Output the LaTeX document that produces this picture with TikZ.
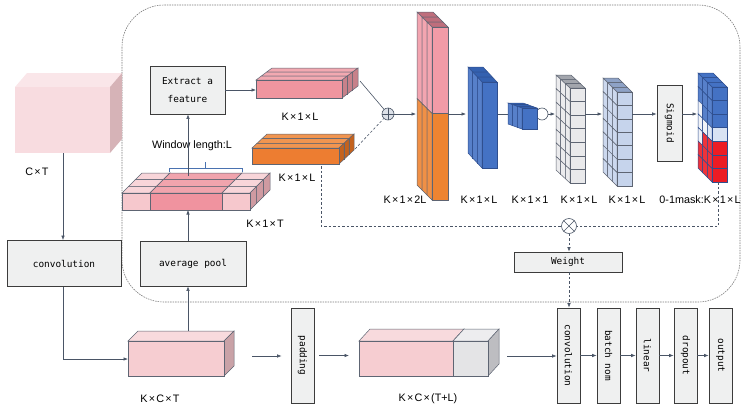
\documentclass[tikz,border=0pt]{standalone}
\usepackage{fontspec}
\setmainfont{Liberation Sans}
\newfontfamily\monof{DejaVu Sans Mono}
\usetikzlibrary{arrows.meta,calc}
\definecolor{lc}{HTML}{4A5566}
\definecolor{boxF}{HTML}{EFF0F0}
\definecolor{boxD}{HTML}{3C3C3C}
\definecolor{dsh}{HTML}{7A7A7A}
\definecolor{edG}{HTML}{5E6573}
\definecolor{bigF}{HTML}{F8DCE0}\definecolor{bigT}{HTML}{FAE6E9}\definecolor{bigS}{HTML}{D6B3B7}
\definecolor{kcF}{HTML}{F6CDD1}\definecolor{kcT}{HTML}{F8DADD}\definecolor{kcS}{HTML}{C9A2A7}
\definecolor{gyF}{HTML}{E4E4E6}\definecolor{gyT}{HTML}{EDEDEF}\definecolor{gyS}{HTML}{BDBDC1}
\definecolor{lpF}{HTML}{F6C8CD}\definecolor{lpT}{HTML}{F8D5D9}
\definecolor{dpF}{HTML}{F0939F}\definecolor{dpT}{HTML}{F1A4AD}\definecolor{pS}{HTML}{CF9AA1}
\definecolor{pkF}{HTML}{F0959F}\definecolor{pkT}{HTML}{F2A9B1}\definecolor{pkS}{HTML}{C7818A}
\definecolor{orF}{HTML}{ED7D31}\definecolor{orT}{HTML}{F19550}\definecolor{orS}{HTML}{C4621D}
\definecolor{tpk}{HTML}{F29BA7}\definecolor{tor}{HTML}{EE8431}\definecolor{tT}{HTML}{BF6E7C}
\definecolor{blF}{HTML}{4472C4}\definecolor{blT}{HTML}{3461B0}\definecolor{edB}{HTML}{2F4F8F}
\definecolor{grF}{HTML}{E9E9EB}\definecolor{grT}{HTML}{A3A6AD}
\definecolor{lbF}{HTML}{C6D4EC}\definecolor{lbT}{HTML}{8EA2C6}
\definecolor{mB}{HTML}{4472C4}\definecolor{mL}{HTML}{D9E3F3}\definecolor{mR}{HTML}{EC1C24}\definecolor{mW}{HTML}{EEF0F6}
\definecolor{brk}{HTML}{4A72B0}
\definecolor{opF}{HTML}{DDE1E8}
\newcommand\tm{\kern1.2pt×\kern1.2pt}
% cuboid with depth to the right
\newcommand\cubR[6]{%
  \filldraw[fill=\cT,draw=\cE,line width=0.5pt] ({#1},{#2}) -- ({#3},{#2}) -- ++({#5},{#6}) -- ++({(#1)-(#3)},0) -- cycle;
  \filldraw[fill=\cS,draw=\cE,line width=0.5pt] ({#3},{#2}) -- ++({#5},{#6}) -- ++(0,{(#4)-(#2)}) -- ({#3},{#4}) -- cycle;
  \filldraw[fill=\cF,draw=\cE,line width=0.5pt] ({#1},{#2}) rectangle ({#3},{#4});}
\newcommand\slabR[7]{%
  \foreach \k in {#7,...,1}{%
    \pgfmathsetmacro\ox{(\k-1)*(#5)/(#7)}%
    \pgfmathsetmacro\oy{(\k-1)*(#6)/(#7)}%
    \pgfmathsetmacro\ddx{(#5)/(#7)}\pgfmathsetmacro\ddy{(#6)/(#7)}%
    \cubR{#1+\ox}{#2+\oy}{#3+\ox}{#4+\oy}{\ddx}{\ddy}}}
% slice k (of 3) of a block with depth to the left, rows coloured by list
\newcommand\gslice[9]{%
  \pgfmathsetmacro\gox{(#1-1)*(#6)/3}%
  \pgfmathsetmacro\goy{(#1-1)*(#7)/3}%
  \pgfmathsetmacro\gdx{(#6)/3}\pgfmathsetmacro\gdy{(#7)/3}%
  \pgfmathsetmacro\gRH{((#5)-(#3))/(#8)}%
  \filldraw[fill=\cT,draw=\cE,line width=0.5pt] ({#2+\gox},{#3+\goy}) -- ({#4+\gox},{#3+\goy}) -- ++(\gdx,\gdy) -- ++({(#2)-(#4)},0) -- cycle;
  \foreach \cc [count=\rr from 0] in {#9}{%
    \filldraw[fill=\cc!90!white,draw=\cE,line width=0.5pt] ({#2+\gox},{#3+\goy+\rr*\gRH}) -- ++(\gdx,\gdy) -- ++(0,\gRH) -- ({#2+\gox},{#3+\goy+(\rr+1)*\gRH}) -- cycle;
    \filldraw[fill=\cc,draw=\cE,line width=0.5pt] ({#2+\gox},{#3+\goy+\rr*\gRH}) rectangle ({#4+\gox},{#3+\goy+(\rr+1)*\gRH});}}
\tikzset{
  arr/.style={draw=lc, line width=0.6pt, -{Latex[length=4.5pt,width=3.5pt]}},
  ln/.style={draw=lc, line width=0.6pt},
  dl/.style={draw=lc, line width=0.6pt, dash pattern=on 2.5pt off 2pt},
  box/.style={draw=boxD, fill=boxF, line width=0.7pt, font=\monof\fontsize{9.4}{18}\selectfont, align=center, inner sep=0pt},
  vbox/.style={box, rotate=-90, minimum width=95pt, minimum height=23pt},
  lab/.style={font=\fontsize{10.8}{12}\selectfont, inner sep=0pt},
}
\begin{document}
\begin{tikzpicture}[x=1pt,y=-1pt]
\useasboundingbox (0,0) rectangle (745,410);
% dashed frame
\draw[dsh, line width=0.6pt, dash pattern=on 1.5pt off 1pt, rounded corners=42pt] (122,5) rectangle (740,302);
% big input cube
\def\cF{bigF}\def\cT{bigT}\def\cS{bigS}\def\cE{none}
\cubR{15}{87}{110}{153}{12}{-14}
\coordinate (bigB) at (63,153);
\node[lab] (lct) at (37,172) {C\tm T};
% boxes
\node[box, minimum width=114pt, minimum height=46pt] (conv1) at (64,263.5) {convolution};
\node[box, minimum width=106pt, minimum height=45pt] (avg) at (193,263.5) {average pool};
\node[box, minimum width=75pt, minimum height=48pt] (ext) at (187.5,90) {Extract a\\feature};
\node[vbox, minimum width=76pt, minimum height=25pt] (sig) at (669.5,123) {Sigmoid};
\node[box, minimum width=108pt, minimum height=20pt] (wt) at (568,262) {Weight};
\node[vbox] (pad) at (302.5,355.5) {padding};
\node[vbox] (conv2) at (568.5,355.5) {convolution};
\node[vbox] (bn) at (608.5,355.5) {batch nom};
\node[vbox] (lin) at (647.5,355.5) {linear};
\node[vbox] (drop) at (685.5,355.5) {dropout};
\node[vbox] (out) at (720.5,355.5) {output};
% K x C x T
\def\cF{kcF}\def\cT{kcT}\def\cS{kcS}\def\cE{edG}
\cubR{128}{341}{224}{376}{10}{-10}
\node[lab] (lkct) at (160,399) {K\tm C\tm T};
% K x C x (T+L)
\cubR{359}{341}{453}{376}{11}{-12}
\def\cF{gyF}\def\cT{gyT}\def\cS{gyS}
\cubR{453}{341}{488}{376}{11}{-12}
\node[lab] (lkctl) at (428,399) {K\tm C\tm (T+L)};
% K x 1 x T
\def\cE{edG}\def\cS{pS}
\foreach \k in {3,2,1}{%
  \pgfmathsetmacro\ox{(\k-1)*20/3}\pgfmathsetmacro\oy{-(\k-1)*20/3}%
  \def\cF{lpF}\def\cT{lpT}\cubR{122+\ox}{193+\oy}{150+\ox}{210+\oy}{6.667}{-6.667}
  \def\cF{dpF}\def\cT{dpT}\cubR{150+\ox}{193+\oy}{222+\ox}{210+\oy}{6.667}{-6.667}
  \def\cF{lpF}\def\cT{lpT}\cubR{222+\ox}{193+\oy}{250+\ox}{210+\oy}{6.667}{-6.667}
}
\node[lab] (lk1t) at (265,224) {K\tm1\tm T};
\draw[brk, line width=0.7pt] (169,172) -- (169,168) -- (242,168) -- (242,172) (205,168) -- (205,162);
\node[lab] (lwin) at (192,146) {Window length:L};
% pink and orange slabs
\def\cF{pkF}\def\cT{pkT}\def\cS{pkS}
\slabR{256}{80}{342}{98}{16}{-12}{3}
\node[lab] (lpk) at (300,117) {K\tm1\tm L};
\def\cF{orF}\def\cT{orT}\def\cS{orS}
\slabR{252}{148}{339}{164}{15}{-14}{3}
\node[lab] (lor) at (297,178) {K\tm1\tm L};
% tall block
\def\cT{tT}\def\cE{edG}
\foreach \k in {3,2,1}{\gslice{\k}{432}{27}{448}{200}{-15}{-15}{2}{tpk,tor}}
\node[lab] (l2l) at (405,200) {K\tm1\tm2L};
% blue block
\coordinate (blR) at (497,114);
\node[circle, draw=lc, fill=white, line width=0.6pt, minimum size=12pt, inner sep=0pt] (cc) at (542,114) {};
\draw[ln] (blR) -- (cc.west);
\def\cT{blT}\def\cE{edB}
\foreach \k in {3,2,1}{\gslice{\k}{482}{82}{497}{168}{-14}{-15}{1}{blF}}
\node[lab] (lbl) at (479,200) {K\tm1\tm L};
\foreach \k in {3,2,1}{\gslice{\k}{522}{108}{537}{129}{-14}{-5}{1}{blF}}
\node[lab] (lsm) at (530,200) {K\tm1\tm1};
% gray grid block
\def\cT{grT}\def\cE{edG}
\foreach \k in {3,2,1}{\gslice{\k}{570}{88}{585}{183}{-14}{-13}{7}{grF,grF,grF,grF,grF,grF,grF}}
\node[lab] (lgr) at (579,200) {K\tm1\tm L};
% light blue grid block
\def\cT{lbT}
\foreach \k in {3,2,1}{\gslice{\k}{617}{92}{632}{186}{-14}{-14}{7}{lbF,lbF,lbF,lbF,lbF,lbF,lbF}}
\node[lab] (llb) at (627,200) {K\tm1\tm L};
% mask
\def\cT{mB}\def\cE{edB}
\gslice{3}{712}{87}{727}{182}{-14}{-14}{7}{mB,mB,mW,mW,mW,mR,mR}
\gslice{2}{712}{87}{727}{182}{-14}{-14}{7}{mB,mB,mB,mW,mR,mR,mR}
\gslice{1}{712}{87}{727}{182}{-14}{-14}{7}{mB,mB,mB,mL,mR,mR,mR}
\node[lab] (lmk) at (700,200) {0-1mask:K\tm1\tm L};
% circles
\node[circle, draw=lc, fill=opF, line width=0.6pt, minimum size=12pt, inner sep=0pt] (op) at (388,114) {};
\draw[ln] (op.north) -- (op.south) (op.east) -- (op.west);
\node[circle, draw=lc, fill=white, line width=0.6pt, minimum size=15pt, inner sep=0pt] (ot) at (569,226) {};
\draw[ln] (ot.north east) -- (ot.south west) (ot.north west) -- (ot.south east);
% coordinates
\coordinate (pkR) at (360,81);
\coordinate (orR) at (355,149);
\coordinate (orB) at (321,166);
\coordinate (mkB) at (718,182);
\coordinate (tallL) at (416,114);
\coordinate (tallR) at (448,114);
\coordinate (blL) at (466,114);
\coordinate (grL) at (555,114);
\coordinate (grR) at (585,114);
\coordinate (lbL) at (602,114);
\coordinate (lbR) at (632,114);
\coordinate (mkL) at (697,114);
\coordinate (pkL) at (256,90);
\coordinate (kcL) at (128,359);
\coordinate (kctT) at (188,331);
\coordinate (kt1B) at (188,210);
\coordinate (kt1T) at (188,176);
\coordinate (kcR) at (252,356);
\coordinate (tlL) at (359,355.5);
\coordinate (tlR) at (507,356);
% connectors
\draw[arr] (bigB) -- (bigB |- conv1.north);
\draw[arr] (conv1.south -| bigB) |- (kcL);
\draw[arr] (kctT) -- (kctT |- avg.south);
\draw[arr] (kctT |- avg.north) -- (kt1B);
\draw[arr] (kt1T) -- (kt1T |- ext.south);
\draw[arr] (ext.east) -- (ext.east -| pkL);
\draw[ln] (pkR) -- (op);
\draw[dl] (orR) -- (op);
\draw[arr] (op.east) -- (tallL);
\draw[arr] (tallR) -- (blL);
\draw[arr] (cc.east) -- (grL);
\draw[arr] (grR) -- (lbL);
\draw[arr] (lbR) -- (lbR -| sig.south);
\draw[arr] (lbR -| sig.north) -- (mkL);
\draw[dl] (orB) |- (ot.west);
\draw[dl] (mkB) |- (ot.east);
\draw[dl, -{Latex[length=4.5pt,width=3.5pt]}] (ot.south) -- (ot |- wt.north);
\draw[dl, -{Latex[length=4.5pt,width=3.5pt]}] (wt.south -| ot) -- (ot |- conv2.west);
\draw[arr, shorten >=9pt] (kcR) -- (kcR -| pad.south);
\draw[arr, shorten <=5pt, shorten >=10pt] (pad.north) -- (tlL);
\draw[arr] (tlR) -- (tlR -| conv2.south);
\draw[arr] (conv2.north) -- (bn.south);
\draw[arr] (bn.north) -- (lin.south);
\draw[arr] (lin.north) -- (drop.south);
\draw[arr] (drop.north) -- (out.south);
\end{tikzpicture}
\end{document}
